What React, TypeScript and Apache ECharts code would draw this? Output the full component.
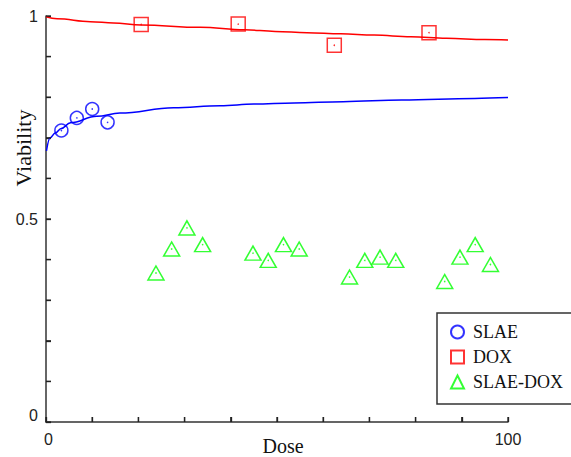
import React, { useEffect, useRef } from "react";
import * as echarts from "echarts";

// Measured data points
const slaeX = [3.33, 6.67, 10, 13.33];
const slaeY = [0.718, 0.749, 0.771, 0.738];
const doxX = [20.6, 41.6, 62.4, 82.9];
const doxY = [0.979, 0.98, 0.928, 0.959];
const comboX = [23.8, 27.2, 30.5, 33.9, 44.8, 48.1, 51.4, 54.8, 65.7, 69.0, 72.3, 75.7, 86.3, 89.6, 92.9, 96.2];
const comboY = [0.367, 0.426, 0.478, 0.437, 0.416, 0.398, 0.437, 0.426, 0.357, 0.398, 0.406, 0.398, 0.346, 0.406, 0.437, 0.388];

// Fitted curves
const slaeFitX = [0.1, 0.9, 2, 3.3, 5.3, 11, 16, 27.6, 37.7, 45, 53.7, 64.3, 77, 92.8, 100];
const slaeFitY = [0.668, 0.7, 0.712, 0.723, 0.737, 0.753, 0.761, 0.774, 0.779, 0.783, 0.786, 0.789, 0.793, 0.797, 0.799];
const doxFitX = [0, 2.4, 9.6, 14.6, 20.6, 33.4, 43, 49.6, 56.5, 63.8, 71, 79, 86.7, 95, 100];
const doxFitY = [0.998, 0.993, 0.986, 0.983, 0.978, 0.972, 0.966, 0.962, 0.959, 0.956, 0.953, 0.949, 0.945, 0.942, 0.941];

const seriesNames = ["SLAE", "DOX", "SLAE-DOX"];
const yTickLabels = ["0", "0.5", "1"];
const xTickLabels = ["0", "100"];
const xTickValues = [0, 10, 20, 30, 40, 50, 60, 70, 80, 90, 100];
const yTickValues = [0, 0.1, 0.2, 0.3, 0.4, 0.5, 0.6, 0.7, 0.8, 0.9, 1];

const BLUE = "#0000ff";
const RED = "#ff0000";
const GREEN = "#00ff00";
const SANS = "'Liberation Sans', Arial, sans-serif";
const SERIF = "'Liberation Serif', 'Times New Roman', serif";

const zip = (xs: number[], ys: number[]) => xs.map((x, i) => [x, ys[i]]);

export default function App() {
  const ref = useRef<HTMLDivElement>(null);
  useEffect(() => {
    const chart = echarts.init(ref.current!, null, { renderer: "svg" });
    const marker = (name: string, xs: number[], ys: number[], symbol: string, size: any, color: string) => ({
      name,
      type: "scatter",
      data: zip(xs, ys),
      symbol,
      symbolSize: size,
      symbolKeepAspect: true,
      itemStyle: { color: "rgba(0,0,0,0)", borderColor: color, borderWidth: 1.5 },
      z: 3,
    });
    const dot = (name: string, xs: number[], ys: number[], color: string) => ({
      name,
      type: "scatter",
      data: zip(xs, ys),
      symbol: "circle",
      symbolSize: 1.6,
      itemStyle: { color },
      z: 4,
      silent: true,
    });
    const fit = (name: string, xs: number[], ys: number[], color: string) => ({
      name,
      type: "line",
      data: zip(xs, ys),
      showSymbol: false,
      symbol: "none",
      smooth: 0.4,
      smoothMonotone: "x",
      lineStyle: { color, width: 1.5 },
      z: 2,
    });
    const tickSeries = (name: string, vals: number[], horizontal: boolean) => ({
      name,
      type: "custom",
      silent: true,
      clip: false,
      z: 5,
      data: vals.map((v) => (horizontal ? [v, 0] : [0, v])),
      renderItem: (_p: any, api: any) => {
        const pt = api.coord([api.value(0), api.value(1)]);
        return {
          type: "line",
          shape: horizontal
            ? { x1: pt[0], y1: pt[1], x2: pt[0], y2: pt[1] - 5 }
            : { x1: pt[0], y1: pt[1], x2: pt[0] + 5, y2: pt[1] },
          style: { stroke: "#222", lineWidth: 1.3 },
        };
      },
    });
    const tick = { show: true, inside: true, length: 5, lineStyle: { color: "#222", width: 1.3 } };
    chart.setOption({
      animation: false,
      backgroundColor: "#ffffff",
      grid: { left: 46, top: 16, right: 63, bottom: 35, containLabel: false },
      xAxis: {
        type: "value",
        min: 0,
        max: 100,
        interval: 10,
        splitLine: { show: false },
        axisLine: { show: true, lineStyle: { color: "#333", width: 1.5 } },
        axisTick: tick,
        axisLabel: {
          margin: 9,
          color: "#222",
          fontFamily: SANS,
          fontSize: 16,
          formatter: (v: number) => {
            if (Math.abs(v) < 1e-9) return "{a|" + xTickLabels[0] + "}";
            if (Math.abs(v - 100) < 1e-9) return xTickLabels[1];
            return "";
          },
          rich: { a: { fontFamily: SANS, fontSize: 16, color: "#222", padding: [0, 0, 0, 5] } },
        },
      },
      yAxis: {
        type: "value",
        min: 0,
        max: 1,
        interval: 0.1,
        splitLine: { show: false },
        axisLine: { show: true, lineStyle: { color: "#333", width: 1.5 } },
        axisTick: tick,
        axisLabel: {
          margin: 8,
          color: "#222",
          fontFamily: SANS,
          fontSize: 16,
          formatter: (v: number) => {
            if (Math.abs(v) < 1e-9) return "{z|" + yTickLabels[0] + "}";
            if (Math.abs(v - 0.5) < 1e-9) return yTickLabels[1];
            if (Math.abs(v - 1) < 1e-9) return yTickLabels[2];
            return "";
          },
          rich: { z: { fontFamily: SANS, fontSize: 16, color: "#222", padding: [0, 0, 14, 0] } },
        },
      },
      legend: {
        show: true,
        data: seriesNames,
        orient: "vertical",
        left: 450,
        top: 323,
        padding: 0,
        itemWidth: 13,
        itemHeight: 13,
        itemGap: 7,
        selectedMode: false,
        textStyle: { fontFamily: SERIF, fontSize: 18, color: "#111", lineHeight: 18, padding: [0, 0, 0, 4] },
        z: 10,
      },
      graphic: [
        {
          type: "rect",
          z: 5,
          shape: { x: 437, y: 313, width: 150, height: 91 },
          style: { fill: "#ffffff", stroke: "#333", lineWidth: 1.5 },
        },
        {
          type: "text",
          x: 23,
          y: 148,
          rotation: Math.PI / 2,
          style: { text: "Viability", fontFamily: SERIF, fontSize: 22, fill: "#111", textAlign: "center", textVerticalAlign: "middle" },
        },
        {
          type: "text",
          x: 283,
          y: 446,
          style: { text: "Dose", fontFamily: SERIF, fontSize: 20, fill: "#111", textAlign: "center", textVerticalAlign: "middle" },
        },
      ],
      series: [
        fit("SLAE fit", slaeFitX, slaeFitY, BLUE),
        fit("DOX fit", doxFitX, doxFitY, RED),
        marker(seriesNames[0], slaeX, slaeY, "circle", 13, BLUE),
        marker(seriesNames[1], doxX, doxY, "rect", 14, RED),
        marker(seriesNames[2], comboX, comboY, "triangle", [16, 14], GREEN),
        dot("SLAE c", slaeX, slaeY, BLUE),
        dot("DOX c", doxX, doxY, RED),
        dot("SLAE-DOX c", comboX, comboY, GREEN),
        tickSeries("x ticks", xTickValues, true),
        tickSeries("y ticks", yTickValues, false),
      ],
    });
    return () => chart.dispose();
  }, []);
  return (
    <div
      ref={ref}
      style={{ position: "fixed", left: 0, top: 0, width: 571, height: 457, background: "#fff" }}
    />
  );
}
